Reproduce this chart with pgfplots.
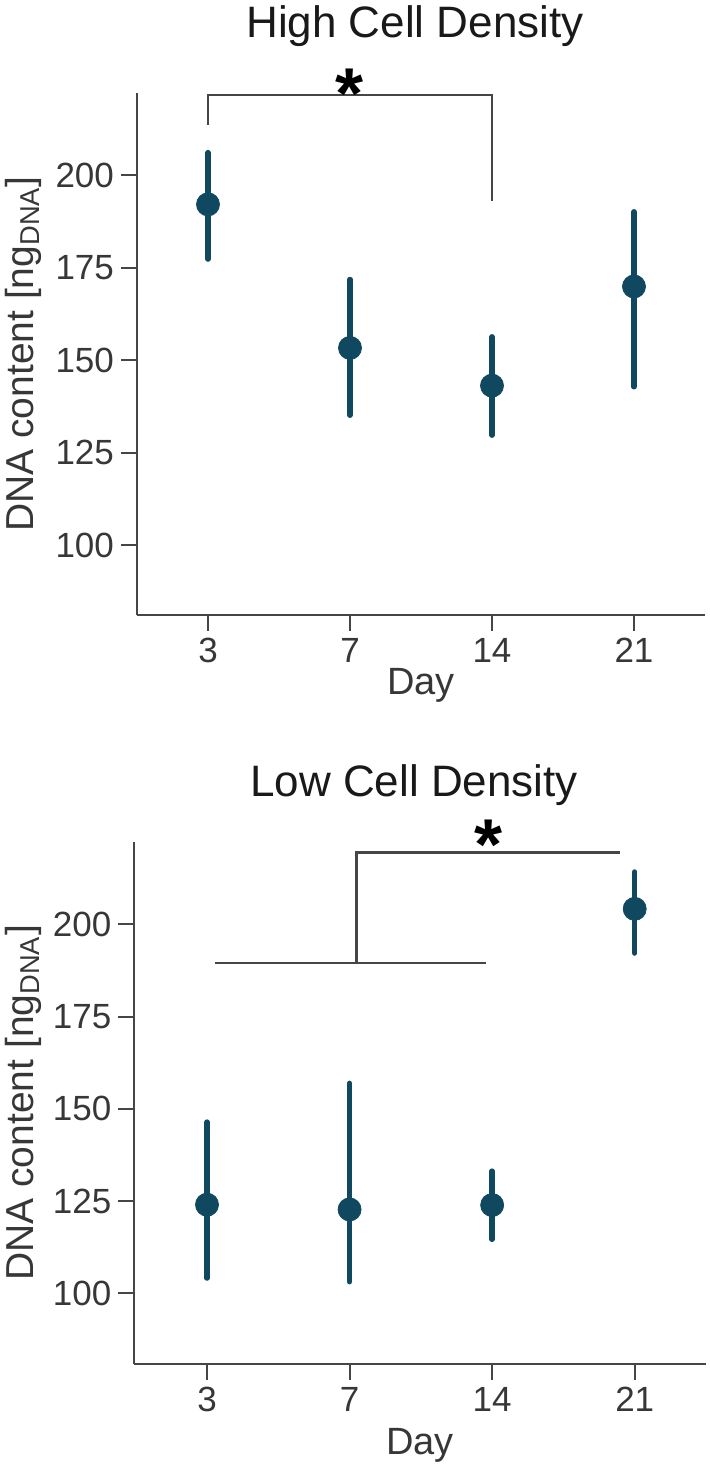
\documentclass[border=0pt]{standalone}
\usepackage{pgfplots}
\pgfplotsset{compat=1.18}
\usepackage{fontspec}
\setmainfont{Liberation Sans}
\definecolor{pt}{RGB}{16,72,96}
\definecolor{axgray}{RGB}{70,70,70}
\definecolor{txtgray}{RGB}{55,55,55}

\pgfplotstableread{
x y ep em
0 192.1 14.0 14.8
1 153.3 18.5 18.2
2 143.1 13.2 13.4
3 169.9 20.2 27.1
}\hightab
\pgfplotstableread{
x y ep em
0 124.0 22.4 19.9
1 122.7 34.2 19.6
2 123.9 9.2 9.3
3 204.2 10.0 12.0
}\lowtab

\pgfplotsset{
  mystyle/.style={
    scale only axis,
    axis lines=left,
    axis line style={-, draw=axgray, line width=1pt},
    tick style={draw=axgray, line width=1pt},
    tick align=outside,
    major tick length=8pt,
    xmin=-0.5, xmax=3.5,
    xtick={0,1,2,3},
    xticklabels={3,7,14,21},
    ytick={100,125,150,175,200},
    minor tick num=0,
    clip=false,
    /pgf/number format/assume math mode=true,
    tick label style={font=\fontsize{17.5}{20}\selectfont, text=txtgray},
    xlabel={Day},
    ylabel={DNA content [ng\textsubscript{DNA}]},
    xlabel style={font=\fontsize{19}{22}\selectfont, text=txtgray, at={(axis description cs:0.5,0)}, anchor=base},
    title style={font=\fontsize{22}{26}\selectfont, text=black!90, at={(axis description cs:0.5,1)}, anchor=base, xshift=-3pt},
  },
  myplot/.style={
    only marks, mark=*, mark size=5.75pt, color=pt,
    mark options={draw=pt, fill=pt},
    error bars/.cd, y dir=both, y explicit,
    error bar style={line width=2.7pt, line cap=round, draw=pt},
    error mark=none,
  },
  bracket/.style={draw=axgray, line width=1.2pt, no marks, line join=miter, forget plot},
}

\begin{document}
\begin{tikzpicture}
\useasboundingbox (0,0) rectangle (354.5pt,-732pt);

\begin{axis}[mystyle,
  at={(68.5pt,-307.5pt)}, anchor=south west,
  width=284pt, height=261pt,
  ymin=81.1, ymax=222.2,
  title={High Cell Density},
  title style={yshift=22pt},
  xlabel style={yshift=-39.5pt},
  ylabel style={font=\fontsize{19.5}{22}\selectfont, text=txtgray, at={(axis description cs:-0.183,0.5)}, anchor=base},
]
\addplot[bracket] coordinates {(0,213.6) (0,221.7) (2,221.7) (2,193.1)};
\addplot[myplot] table[x=x, y=y, y error plus=ep, y error minus=em] {\hightab};
\node[font=\fontsize{36}{36}\selectfont\bfseries, anchor=base, yshift=-20pt] at (axis cs:1,226.0) {*};
\end{axis}

\begin{axis}[mystyle,
  at={(67.15pt,-682pt)}, anchor=south west,
  width=285.85pt, height=261.15pt,
  xmin=-0.51,
  ymin=80.8, ymax=222.4,
  title={Low Cell Density},
  title style={yshift=16.5pt},
  xlabel style={yshift=-45pt},
  ylabel style={font=\fontsize{19.5}{22}\selectfont, text=txtgray, at={(axis description cs:-0.177,0.5)}, anchor=base},
]
\addplot[bracket] coordinates {(0.056,189.5) (1.96,189.5)};
\addplot[bracket] coordinates {(1.048,189.5) (1.048,219.5) (2.90,219.5)};
\addplot[myplot] table[x=x, y=y, y error plus=ep, y error minus=em] {\lowtab};
\node[font=\fontsize{36}{36}\selectfont\bfseries, anchor=base, yshift=-20pt] at (axis cs:1.975,225.8) {*};
\end{axis}
\end{tikzpicture}
\end{document}
